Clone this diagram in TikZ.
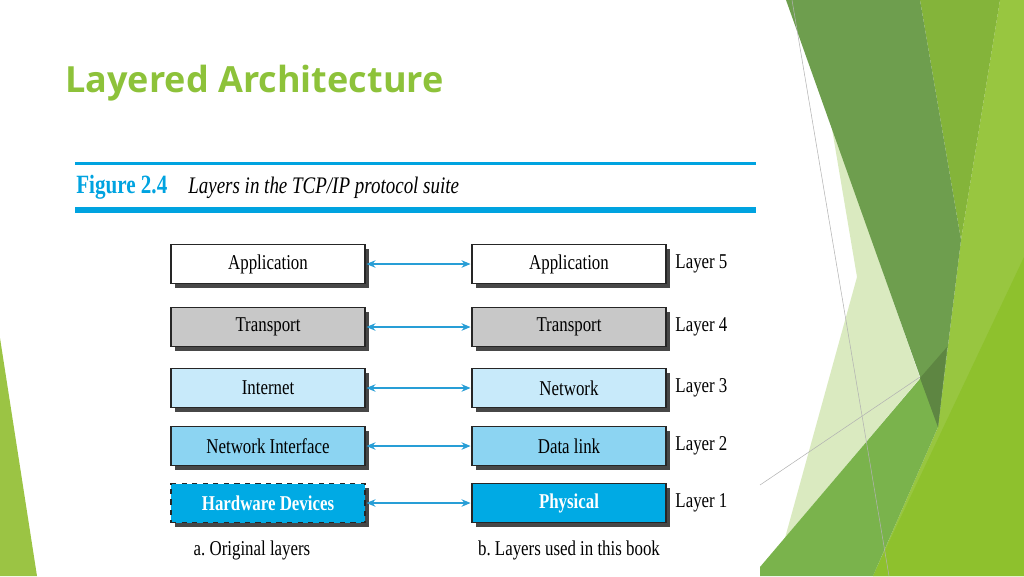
\documentclass[tikz,border=0pt]{standalone}
\usepackage{fontspec}
\setmainfont{Liberation Serif}
\newfontfamily\bookfont[FakeStretch=0.8]{Liberation Serif}
\newfontfamily\titlefont{Open Sans}
\usetikzlibrary{positioning,shadows,arrows.meta}
\definecolor{titlegreen}{RGB}{141,194,58}
\definecolor{figblue}{RGB}{0,163,224}
\definecolor{arrowblue}{RGB}{40,158,214}
\definecolor{boxgray}{RGB}{200,200,200}
\definecolor{paleblue}{RGB}{200,234,250}
\definecolor{midblue}{RGB}{140,212,242}
\definecolor{deepblue}{RGB}{0,170,228}
\definecolor{gdark}{RGB}{110,158,78}
\definecolor{gmid}{RGB}{132,180,58}
\definecolor{glight}{RGB}{152,198,64}
\definecolor{gbright}{RGB}{142,193,45}
\definecolor{gmedium}{RGB}{122,179,76}
\definecolor{gpale}{RGB}{218,234,192}
\definecolor{gleft}{RGB}{155,196,68}
\tikzset{>=latex}
\tikzset{layer/.style={draw=black!85, line width=0.7pt, minimum width=3.88cm, minimum height=0.78cm,
    font=\bookfont\fontsize{12}{14}\selectfont,
    drop shadow={shadow xshift=0.8mm, shadow yshift=-0.8mm, fill=black!72, opacity=1}}}
\tikzset{lbl/.style={font=\bookfont\fontsize{12}{14}\selectfont, inner sep=0pt}}
\tikzset{peer/.style={{Stealth[length=1.8mm,width=1.5mm]}-{Stealth[length=1.8mm,width=1.5mm]}, arrowblue, line width=0.6pt, shorten >=0.5pt, shorten <=0.5pt}}

\begin{document}
\begin{tikzpicture}[x=0.02cm,y=-0.02cm]
      \useasboundingbox (0,0) rectangle (1024,576);
      % slide background
      \fill[gleft] (0,338) -- (37,576) -- (0,576) -- cycle;
      \fill[glight] (961,240) -- (1000,0) -- (1024,0) -- (1024,576) -- (873,576) -- (938,427) -- cycle;
      \fill[gmid] (920,0) -- (1000,0) -- (961,240) -- cycle;
      \fill[gbright] (1024,257) -- (1024,576) -- (873,576) -- cycle;
      \fill[gpale] (831,123) -- (857,277) -- (785,538) -- (920,378) -- cycle;
      \fill[gmedium] (760,567) -- (947,347) -- (938,427) -- (873,576) -- (760,576) -- cycle;
      \fill[gdark] (786,0) -- (920,0) -- (961,240) -- (938,427) -- cycle;
      \fill[gdark!85!black] (920,378) -- (947,347) -- (938,427) -- cycle;
      \draw[black!30, line width=0.3pt] (792,0) -- (889,576);
      \draw[black!30, line width=0.3pt] (760,485) -- (920,377);

      \node[anchor=base west, inner sep=0pt, text=titlegreen, font=\titlefont\bfseries\fontsize{20.5}{24}\selectfont] (title) at (65,92) {Layered Architecture};

      % figure header
      \draw[figblue, line width=1.7pt] (75,163) -- (756,163);
      \draw[figblue, line width=3.4pt] (75,210) -- (756,210);
      \node[anchor=base west, inner sep=0pt, text=figblue, font=\bookfont\bfseries\fontsize{15}{17}\selectfont] (fignum) at (76,193) {Figure 2.4};
      \node[anchor=base west, inner sep=0pt, font=\bookfont\itshape\fontsize{13.5}{16}\selectfont] (figcap) at (188,193) {Layers in the TCP/IP protocol suite};

      % original layers
      \node[layer, fill=white] (a5) at (268,264) {Application};
      \node[layer, fill=boxgray] (a4) at (268,327) {Transport};
      \node[layer, fill=paleblue] (a3) at (268,388) {Internet};
      \node[layer, fill=midblue] (a2) at (268,446) {Network Interface};
      \node[layer, fill=deepblue, dashed, text=white, font=\bookfont\bfseries\fontsize{12}{14}\selectfont] (a1) at (268,503) {Hardware Devices};

      % layers used in this book
      \node[layer, fill=white] (b5) at (569,264) {Application};
      \node[layer, fill=boxgray] (b4) at (569,327) {Transport};
      \node[layer, fill=paleblue] (b3) at (569,388) {Network};
      \node[layer, fill=midblue] (b2) at (569,446) {Data link};
      \node[layer, fill=deepblue, text=white, font=\bookfont\bfseries\fontsize{12}{14}\selectfont] (b1) at (569,503) {Physical};

      \foreach \i in {1,...,5}{
        \draw[peer] (a\i.east) -- (b\i.west);
        \node[lbl, anchor=west, right=0.17cm of b\i.east] (n\i) {Layer \i};
      }

      \node[lbl] (capa) at (252,550) {a.\ Original layers};
      \node[lbl] (capb) at (569,550) {b.\ Layers used in this book};
    \end{tikzpicture}
\end{document}
